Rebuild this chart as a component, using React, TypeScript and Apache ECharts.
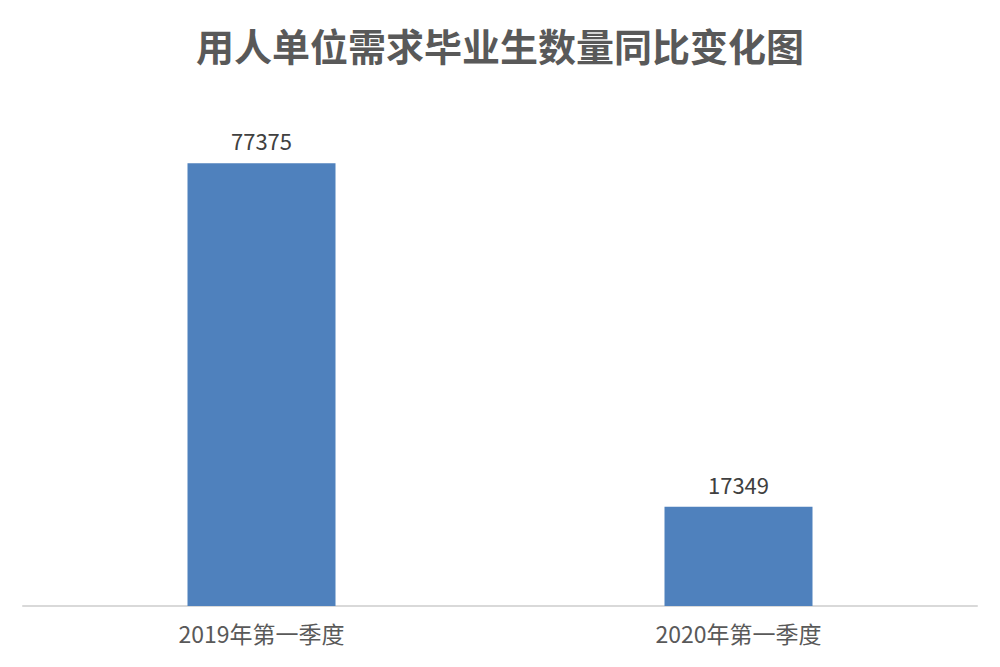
import React, { useEffect, useRef } from "react";
import * as echarts from "echarts";

const titleText = "用人单位需求毕业生数量同比变化图";
const categories = ["2019年第一季度", "2020年第一季度"];
const values = [77375, 17349];

export default function App() {
  const ref = useRef<HTMLDivElement>(null);
  useEffect(() => {
    if (!ref.current) return;
    const chart = echarts.init(ref.current, undefined, { renderer: "svg" });
    chart.setOption({
      animation: false,
      backgroundColor: "#ffffff",
      title: {
        text: titleText,
        left: "center",
        top: 20,
        textStyle: {
          fontFamily: "Noto Sans CJK SC",
          fontSize: 38,
          fontWeight: "bold",
          color: "#595959",
        },
      },
      grid: { left: 23, right: 23, top: 91, bottom: 61, containLabel: false },
      xAxis: {
        type: "category",
        data: categories,
        axisLine: { lineStyle: { color: "#D9D9D9", width: 2 } },
        axisTick: { show: false },
        axisLabel: {
          fontFamily: "Noto Sans CJK SC",
          fontSize: 23,
          color: "#595959",
          margin: 15,
        },
      },
      yAxis: {
        type: "value",
        min: 0,
        max: 90000,
        show: false,
        splitLine: { show: false },
      },
      series: [
        {
          type: "bar",
          data: values,
          barWidth: 148,
          itemStyle: { color: "#4F81BD" },
          label: {
            show: true,
            position: "top",
            distance: 12,
            fontFamily: "Noto Sans CJK SC",
            fontSize: 22,
            color: "#404040",
          },
        },
      ],
    });
    return () => chart.dispose();
  }, []);
  return (
    <div
      ref={ref}
      style={{ position: "fixed", left: 0, top: 0, width: 1000, height: 667 }}
    />
  );
}
